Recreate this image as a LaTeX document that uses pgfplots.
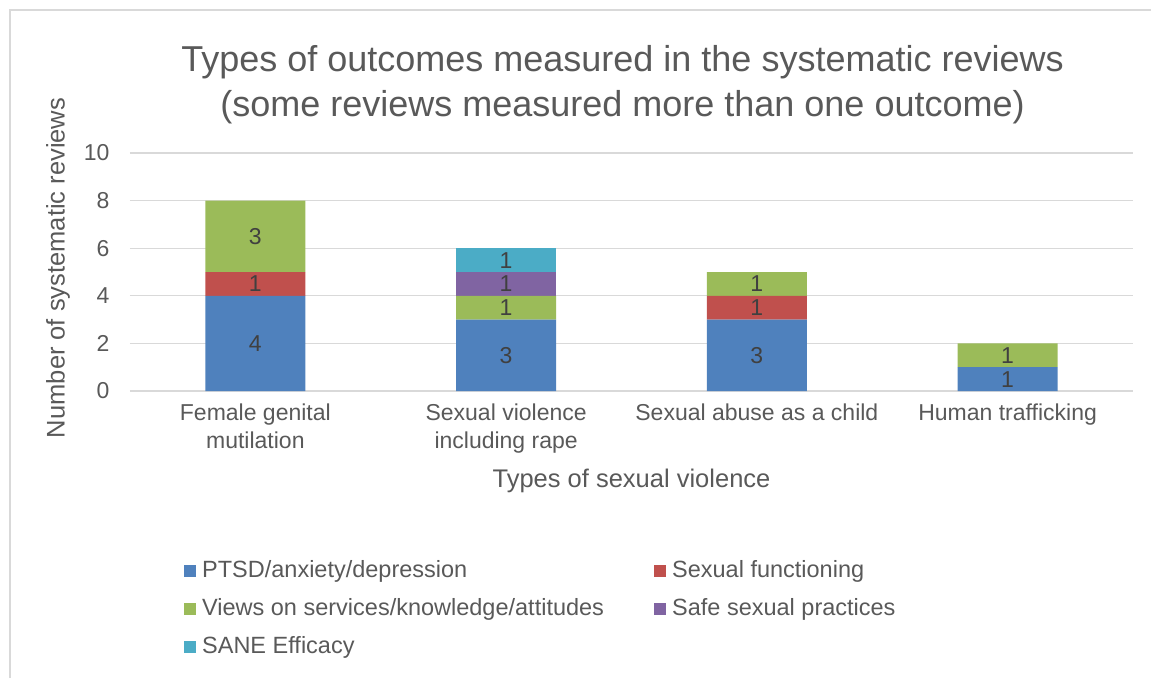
\documentclass[border=0pt]{standalone}
\usepackage{fontspec}
\setmainfont{Liberation Sans}
\usepackage{pgfplots}
\usepackage{pgfplotstable}
\pgfplotsset{compat=1.18}

\definecolor{cBlue}{HTML}{4F81BD}
\definecolor{cRed}{HTML}{C0504D}
\definecolor{cGreen}{HTML}{9BBB59}
\definecolor{cPurple}{HTML}{8064A2}
\definecolor{cCyan}{HTML}{4BACC6}
\definecolor{txt}{HTML}{595959}
\definecolor{lab}{HTML}{404040}
\definecolor{cGrid}{HTML}{D9D9D9}

% x: 0 FGM, 1 sexual violence, 2 child abuse, 3 trafficking
\pgfplotstableread{
x ptsd sexf views safe sane
0 4 1 3 0 0
1 3 0 1 1 1
2 3 1 1 0 0
3 1 0 1 0 0
}\outcomes

\newcommand{\tickfont}{\fontsize{23}{28}\selectfont}
\newcommand{\labfont}{\fontsize{25.5}{30}\selectfont}

\begin{document}
\begin{tikzpicture}
\path[use as bounding box] (-130pt,-287pt) rectangle (1021pt,391pt);
\begin{axis}[
    scale only axis,
    width=1003pt, height=238pt,
    ybar stacked, bar width=100pt,
    xmin=-0.5, xmax=3.5,
    ymin=0, ymax=10,
    ytick={0,2,...,10},
    xtick=data,
    xticklabels={{Female genital\\mutilation},{Sexual violence\\including rape},{Sexual abuse as a child},{Human trafficking}},
    axis line style={draw=none},
    major tick length=0pt,
    xtick style={draw=none}, ytick style={draw=none},
    xmajorgrids=false,
    ymajorgrids=true,
    grid style={cGrid, line width=1.3pt},
    /pgf/number format/assume math mode=true,
    ticklabel style={font=\tickfont, text=txt},
    xticklabel style={align=center, anchor=north, yshift=-9pt},
    yticklabel style={xshift=-17pt},
    title={Types of outcomes measured in the systematic reviews\\(some reviews measured more than one outcome)},
    title style={font=\fontsize{36}{45}\selectfont, text=txt, align=center, at={(0.5,1)}, anchor=center, xshift=-9pt, yshift=62pt},
    xlabel={Types of sexual violence},
    ylabel={Number of systematic reviews},
    label style={font=\labfont, text=txt},
    xlabel style={at={(axis description cs:0.5,-0.378)}, anchor=center},
    ylabel style={at={(axis description cs:-0.0718,0.517)}, anchor=center, rotate=0},
    nodes near coords={\ifdim\val pt>0pt\pgfmathprintnumber{\val}\fi},
    every node near coord/.append style={anchor=center, font=\tickfont, text=lab},
    legend columns=2,
    legend cell align=left,
    legend style={draw=none, fill=none, at={(axis description cs:0.0538,-0.71)}, anchor=north west,
        font=\fontsize{23.5}{28}\selectfont, text=txt, row sep=16pt, inner sep=0pt,
        nodes={inner sep=0pt, text height=17pt, text depth=5pt},
        /tikz/every odd column/.append style={column sep=6pt},
        /tikz/every even column/.append style={column sep=0pt}},
    legend image code/.code={\fill[#1] (0pt,-6pt) rectangle (12pt,6pt);},
]
\addplot[fill=cBlue, draw=none, visualization depends on={\thisrow{ptsd} \as \val}] table[x=x, y=ptsd] {\outcomes};
\addplot[fill=cRed, draw=none, visualization depends on={\thisrow{sexf} \as \val}] table[x=x, y=sexf] {\outcomes};
\addplot[fill=cGreen, draw=none, visualization depends on={\thisrow{views} \as \val}] table[x=x, y=views] {\outcomes};
\addplot[fill=cPurple, draw=none, visualization depends on={\thisrow{safe} \as \val}] table[x=x, y=safe] {\outcomes};
\addplot[fill=cCyan, draw=none, visualization depends on={\thisrow{sane} \as \val}] table[x=x, y=sane] {\outcomes};
\legend{\makebox[452pt][l]{PTSD/anxiety/depression}, Sexual functioning,
        \makebox[452pt][l]{Views on services/knowledge/attitudes}, Safe sexual practices,
        SANE Efficacy}
\end{axis}
\draw[cGrid, line width=1.3pt] (-120pt,-287pt) -- (-120pt,381pt) -- (1021pt,381pt);
\end{tikzpicture}
\end{document}
